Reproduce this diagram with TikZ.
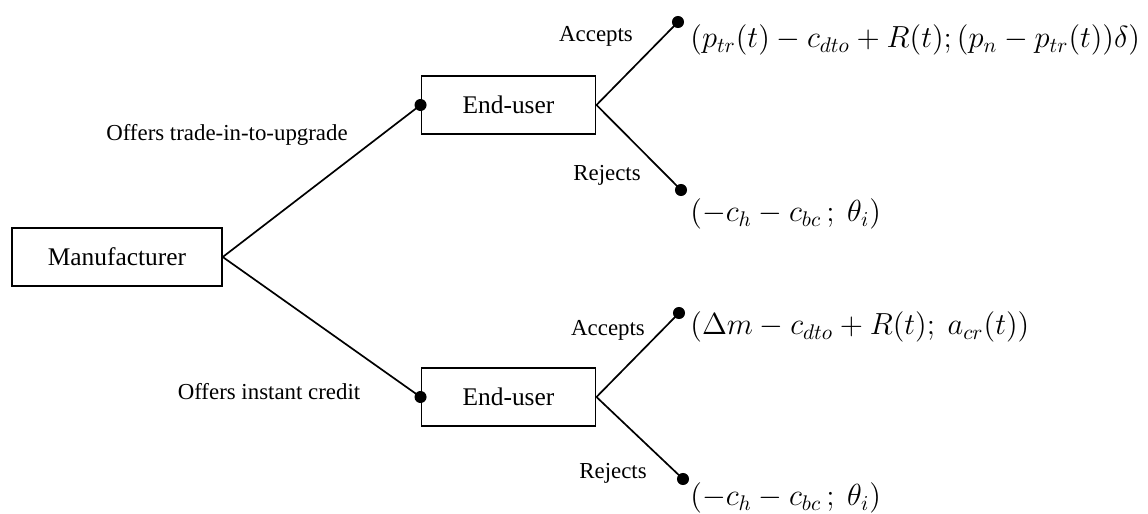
\documentclass[tikz,border=0pt]{standalone}
\usepackage{amsmath}
\usepackage{fontspec}
\setmainfont{Liberation Serif}
\usetikzlibrary{positioning}

\begin{document}
\begin{tikzpicture}[
    x=0.0166cm, y=-0.0166cm,
    player/.style={rectangle, draw, line width=0.6pt, minimum height=0.96cm,
                   font=\fontsize{12}{14}\selectfont},
    branch/.style={line width=0.8pt},
    dot/.style={circle, fill, inner sep=0pt, minimum size=0.2cm},
    move/.style={font=\fontsize{10.8}{13}\selectfont},
    payoff/.style={anchor=west, inner sep=0pt, font=\fontsize{14}{16}\selectfont}
  ]
    \useasboundingbox (0,0) rectangle (1148,513);

    % Players
    \node[player, minimum width=3.49cm] (mfr) at (117,257) {Manufacturer};
    \node[player, minimum width=2.90cm] (eu1) at (508.5,105) {End-user};
    \node[player, minimum width=2.90cm] (eu2) at (508.5,397) {End-user};

    % Decision dots
    \node[dot] (d1) at (eu1.west) {};
    \node[dot] (d2) at (eu2.west) {};
    \node[dot] (a1) at (678,22) {};
    \node[dot] (r1) at (681,190) {};
    \node[dot] (a2) at (679,313) {};
    \node[dot] (r2) at (683,479) {};

    % Manufacturer's offers
    \draw[branch] (mfr.east) -- (d1.center);
    \draw[branch] (mfr.east) -- (d2.center);
    \node[move] (o1) at (227,135) {Offers trade-in-to-upgrade};
    \node[move] (o2) at (269,392) {Offers instant credit};

    % End-user replies
    \draw[branch] (eu1.east) -- (a1.center);
    \draw[branch] (eu1.east) -- (r1.center);
    \draw[branch] (eu2.east) -- (a2.center);
    \draw[branch] (eu2.east) -- (r2.center);
    \node[move] (m1) at (596,36) {Accepts};
    \node[move] (m2) at (607,175) {Rejects};
    \node[move] (m3) at (608,330) {Accepts};
    \node[move] (m4) at (613,473) {Rejects};

    % Payoffs
    \node[payoff] (p1) at (690,40) {$(p_{tr}(t) - c_{dto} + R(t); (p_n - p_{tr}(t))\delta)$};
    \node[payoff] (p2) at (690,214) {$(-c_h - c_{bc}\,;\ \theta_i)$};
    \node[payoff] (p3) at (690,327) {$(\Delta m - c_{dto} + R(t);\ a_{cr}(t))$};
    \node[payoff] (p4) at (690,498) {$(-c_h - c_{bc}\,;\ \theta_i)$};
  \end{tikzpicture}
\end{document}
